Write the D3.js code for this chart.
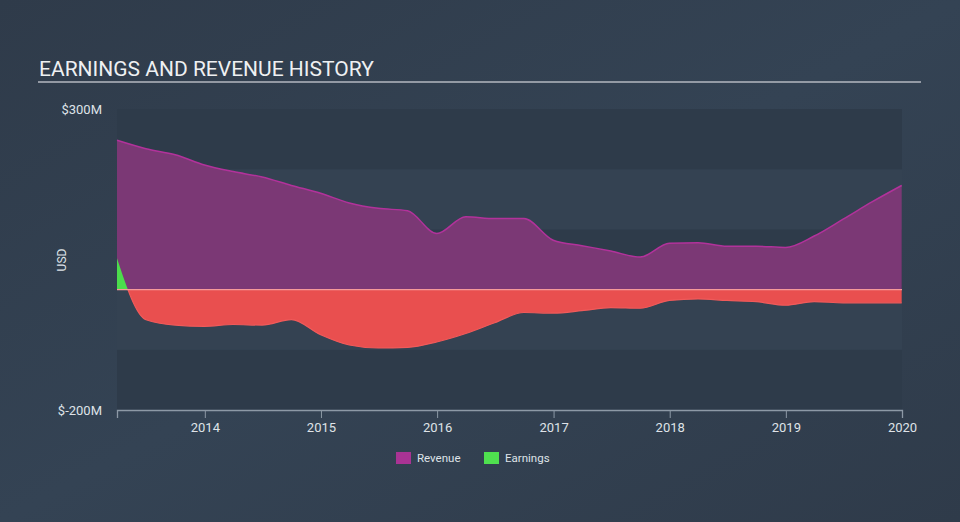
<!DOCTYPE html>
<html><head><meta charset="utf-8">
<script src="https://cdn.jsdelivr.net/npm/d3@7"></script>
<style>
html,body{margin:0;padding:0;background:#333f4e;}
svg{display:block;font-family:Roboto,"Noto Sans",sans-serif;}
</style></head>
<body><svg id="c" width="960" height="522"></svg>
<script>
const dates = ["2013-03-31","2013-06-30","2013-09-30","2013-12-31","2014-03-31","2014-06-30","2014-09-30","2014-12-31",
"2015-03-31","2015-06-30","2015-09-30","2015-12-31","2016-03-31","2016-06-30","2016-09-30","2016-12-31",
"2017-03-31","2017-06-30","2017-09-30","2017-12-31","2018-03-31","2018-06-30","2018-09-30","2018-12-31",
"2019-03-31","2019-06-30","2019-09-30","2019-12-31"];
const revenue = [248,234,224,207,196,187,173,160,144,135,131,93,121,118,118,82,73,64,54,77,78,72,72,70,89,117,146,173];
const earnings = [52,-50,-59,-61,-58,-59,-50,-75,-92,-97,-96,-87,-73,-55,-38,-39,-35,-30,-31,-18,-15.5,-18,-20,-26,-20,-22,-22,-22];
const yTicks = [300,-200];
const yTickLabels = ["$300M","$-200M"];
const xTickYears = [2014,2015,2016,2017,2018,2019,2020];

const svg = d3.select("#c");
const W=960,H=522;
const defs = svg.append("defs");
const grad = defs.append("linearGradient").attr("id","bg").attr("x1",0).attr("y1",0).attr("x2",1).attr("y2",1);
grad.append("stop").attr("offset","0%").attr("stop-color","#2f3b4a");
grad.append("stop").attr("offset","50%").attr("stop-color","#344354");
grad.append("stop").attr("offset","100%").attr("stop-color","#2f3b4a");
svg.append("rect").attr("width",W).attr("height",H).attr("fill","url(#bg)");

const parse = d3.timeParse("%Y-%m-%d");
const data = dates.map((d,i)=>({date:parse(d),rev:revenue[i],earn:earnings[i]}));
const pLeft=117,pRight=902,pTop=109,pBottom=410;
const x = d3.scaleTime().domain([parse("2013-03-31"),parse("2020-01-01")]).range([pLeft,pRight]);
const y = d3.scaleLinear().domain([-200,300]).range([pBottom,pTop]);

// title
svg.append("text").attr("x",39).attr("y",76).attr("fill","#eef0f2").attr("font-size",21).text("EARNINGS AND REVENUE HISTORY");
svg.append("line").attr("x1",38).attr("x2",921).attr("y1",82).attr("y2",82).attr("stroke","#b4b9c0").attr("stroke-width",1.6);

// bands
const bandEdges = d3.range(-200,300,100);
bandEdges.forEach((v,i)=>{
  svg.append("rect").attr("x",pLeft).attr("width",pRight-pLeft)
    .attr("y",y(v+100)).attr("height",y(v)-y(v+100))
    .attr("fill", i%2===0 ? "#2e3b4a" : "#344252");
});

// revenue
const areaRev = d3.area().x(d=>x(d.date)).y0(y(0)).y1(d=>y(d.rev)).curve(d3.curveMonotoneX);
const lineRev = d3.line().x(d=>x(d.date)).y(d=>y(d.rev)).curve(d3.curveMonotoneX);
svg.append("path").datum(data).attr("d",areaRev).attr("fill","#7b3875");
svg.append("path").datum(data).attr("d",lineRev).attr("fill","none").attr("stroke","#b2329b").attr("stroke-width",1.5);

// earnings
defs.append("clipPath").attr("id","above").append("rect").attr("x",0).attr("y",0).attr("width",W).attr("height",y(0));
defs.append("clipPath").attr("id","below").append("rect").attr("x",0).attr("y",y(0)).attr("width",W).attr("height",H-y(0));
const areaE = d3.area().x(d=>x(d.date)).y0(y(0)).y1(d=>y(d.earn)).curve(d3.curveMonotoneX);
const lineE = d3.line().x(d=>x(d.date)).y(d=>y(d.earn)).curve(d3.curveMonotoneX);
svg.append("path").datum(data).attr("d",areaE).attr("fill","#4cdc4c").attr("clip-path","url(#above)");
svg.append("path").datum(data).attr("d",areaE).attr("fill","#e94f4f").attr("clip-path","url(#below)");
svg.append("path").datum(data).attr("d",lineE).attr("fill","none").attr("stroke","#f05a5a").attr("stroke-width",1.2).attr("clip-path","url(#below)");
svg.append("line").attr("x1",pLeft).attr("x2",pRight).attr("y1",y(0)).attr("y2",y(0)).attr("stroke","#f59a9a").attr("stroke-width",1.3);

// y labels
yTicks.forEach((v,i)=>{
  svg.append("text").attr("x",102).attr("y",y(v)+4.5).attr("text-anchor","end").attr("fill","#dfe3e8").attr("font-size",13).text(yTickLabels[i]);
});
svg.append("text").attr("transform","translate(66,260) rotate(-90)").attr("text-anchor","middle").attr("fill","#dfe3e8").attr("font-size",12).text("USD");

// x axis
const xa = d3.axisBottom(x).tickValues(xTickYears.map(yr=>new Date(yr,0,1))).tickFormat(d3.timeFormat("%Y")).tickSizeOuter(0).tickSize(8);
const g = svg.append("g").attr("transform",`translate(0,${pBottom})`).call(xa);
g.select(".domain").attr("stroke","#8d99a6").attr("stroke-width",1.3);
g.selectAll(".tick line").attr("stroke","#8d99a6");
g.selectAll(".tick text").attr("fill","#dfe3e8").attr("font-size",13).attr("font-family","Roboto,sans-serif").attr("dy","0.85em");

// legend
const legend = [{name:"Revenue",color:"#a93394",x:396},{name:"Earnings",color:"#4fe04f",x:484}];
legend.forEach(l=>{
  svg.append("rect").attr("x",l.x).attr("y",452).attr("width",15).attr("height",12).attr("fill",l.color);
  svg.append("text").attr("x",l.x+21).attr("y",462).attr("fill","#dfe3e8").attr("font-size",11.5).text(l.name);
});
</script></body></html>
